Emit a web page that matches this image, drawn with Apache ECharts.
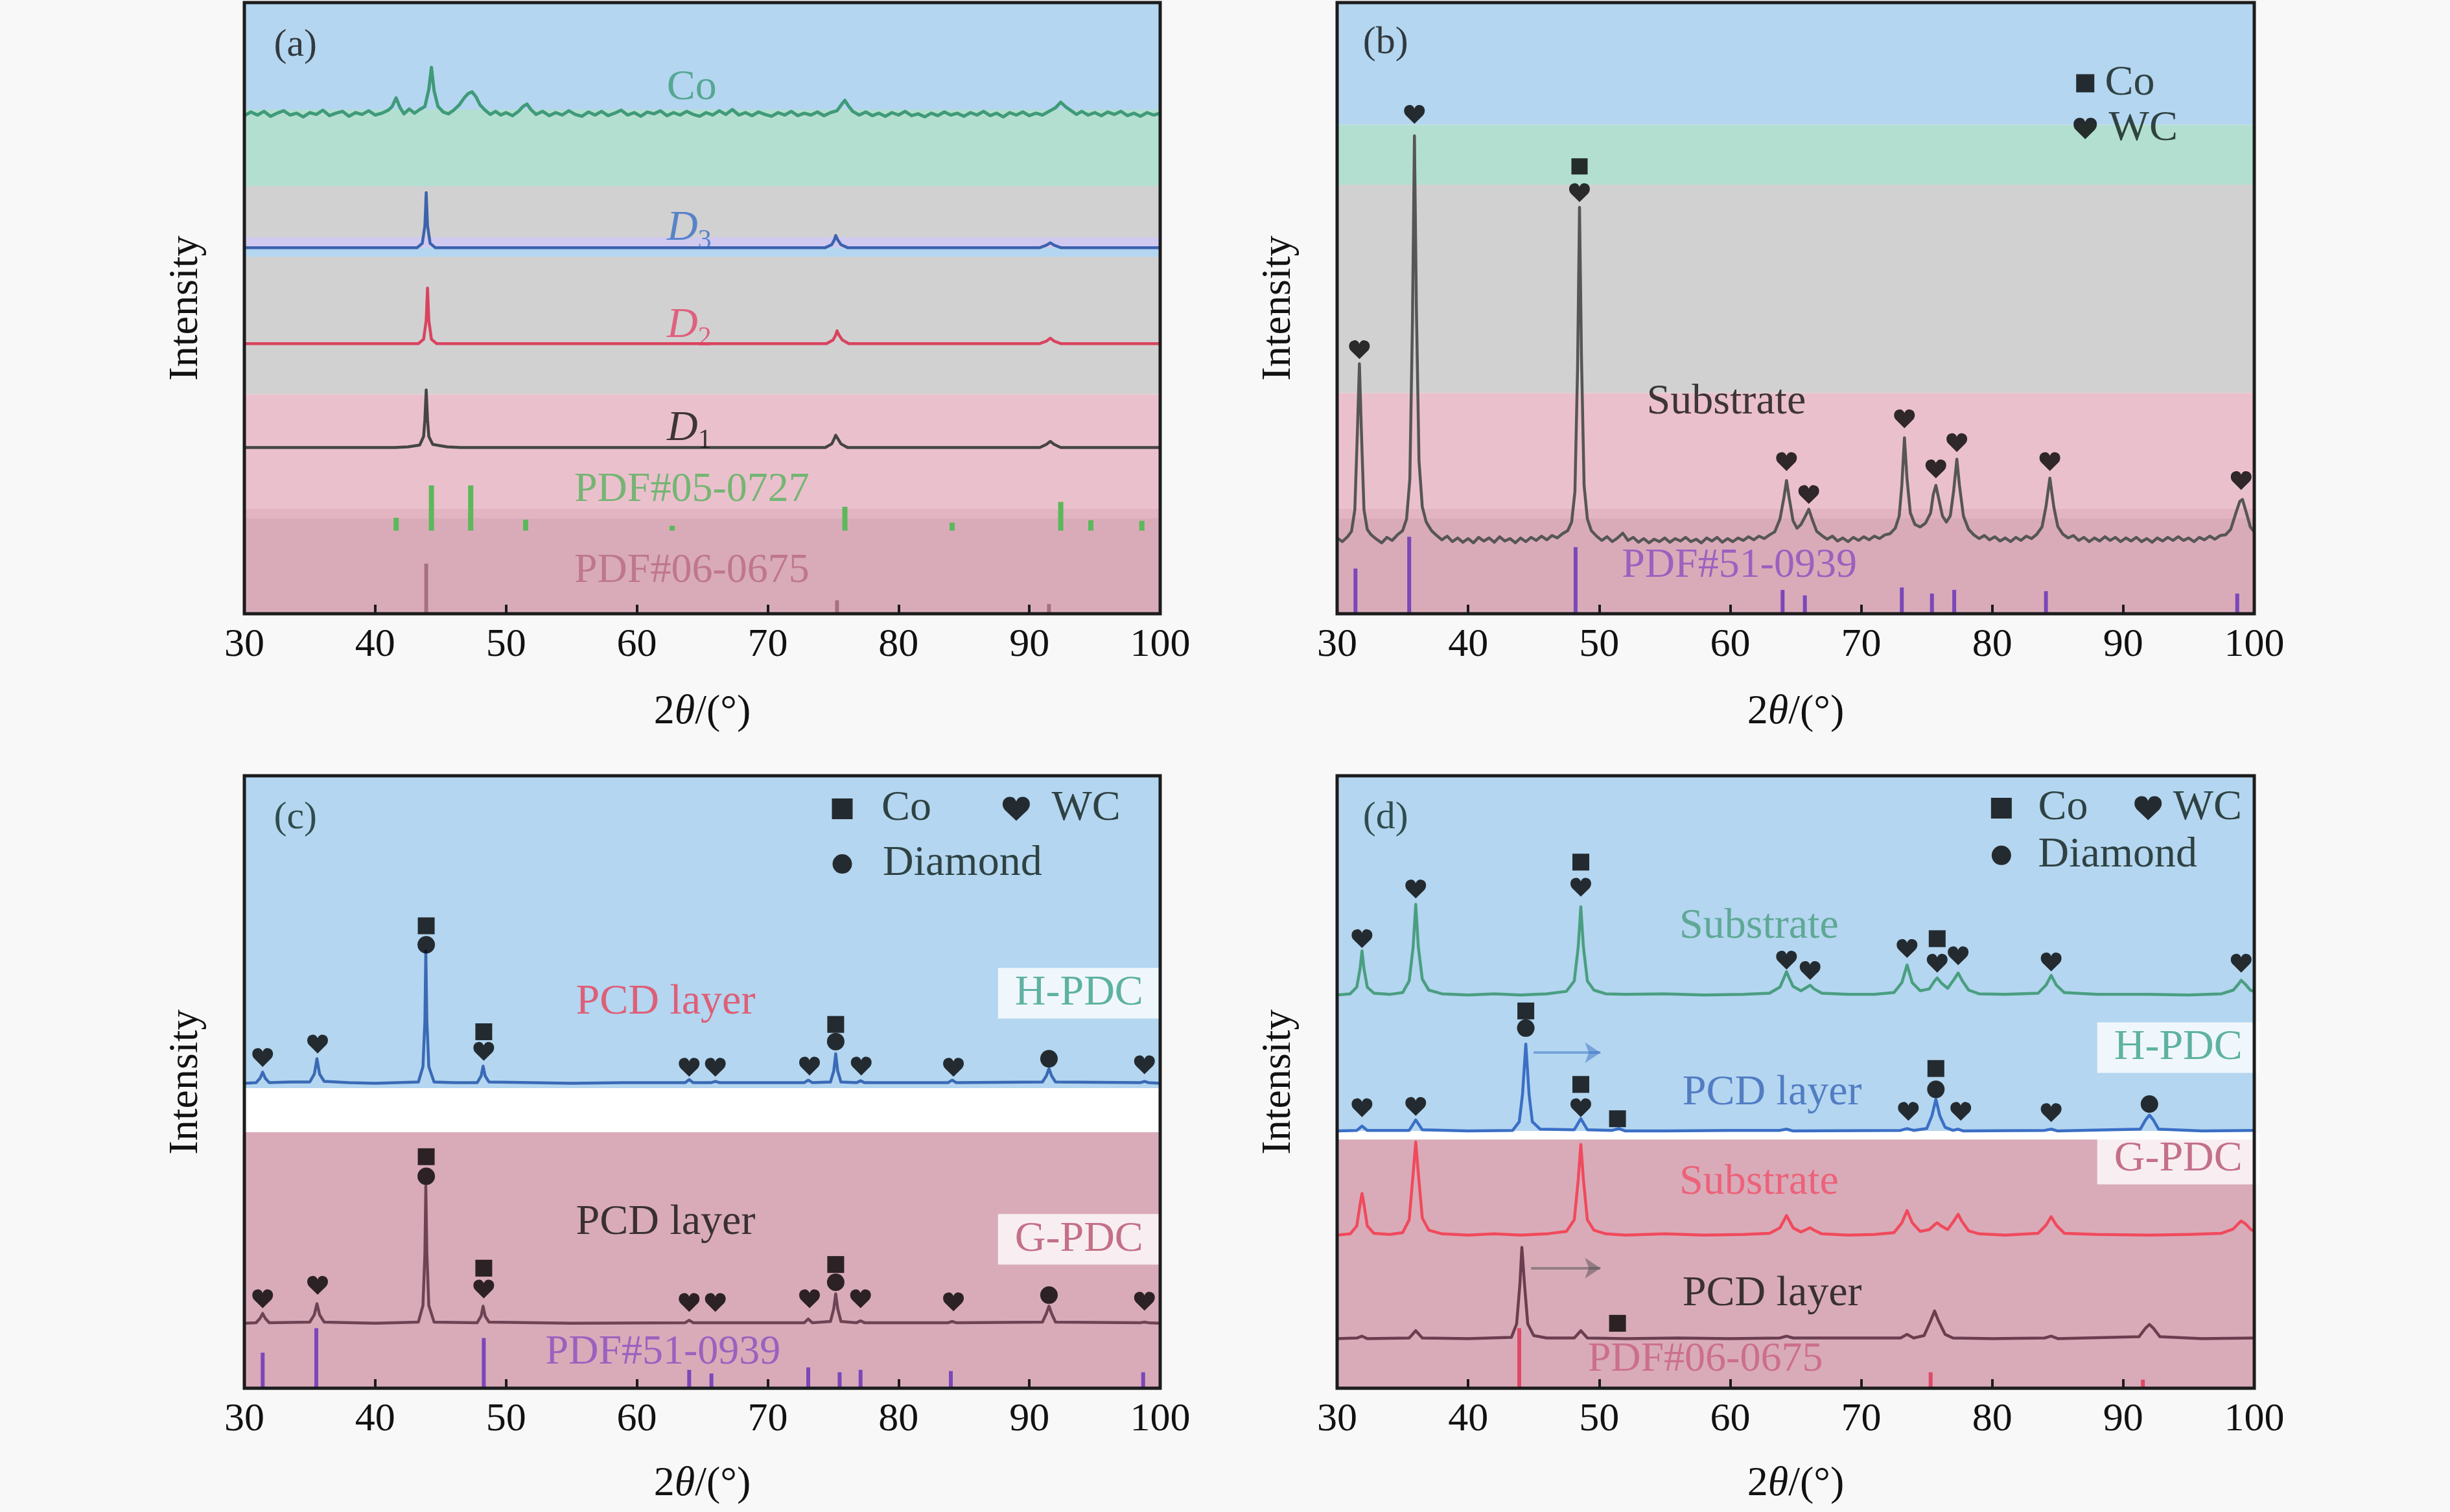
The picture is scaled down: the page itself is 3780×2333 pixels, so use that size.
<!DOCTYPE html>
<html><head><meta charset="utf-8">
<script src="https://cdn.jsdelivr.net/npm/echarts@6/dist/echarts.min.js"></script>
<style>html,body{margin:0;padding:0;background:#f8f8f8}#c{width:3780px;height:2333px}</style>
</head><body><div id="c"></div>
<script>
// ---------------- DATA (2θ in degrees, intensity in arbitrary offset units) ----------------
// Panel (a)
const coA = [[30,81.5],[30.5,82.1],[31,81.6],[31.5,82.2],[32,81.4],[32.5,81.9],[33,82.3],[33.5,81.6],[34,81.9],[34.5,81.3],[35,82.0],[35.5,81.7],[36,82.4],[36.5,81.5],[37,81.9],[37.5,82.2],[38,81.4],[38.5,82.0],[39,81.7],[39.5,82.3],[40,81.6],[40.5,81.9],[41,82.4],[41.3,83.0],[41.6,84.4],[41.9,82.8],[42.2,81.8],[42.6,82.6],[43,81.9],[43.4,82.5],[43.8,83.0],[44.1,85.8],[44.3,89.4],[44.5,85.6],[44.8,83.0],[45.2,82.1],[45.6,81.8],[46,82.4],[46.4,83.2],[46.8,84.4],[47.1,85.1],[47.4,85.4],[47.7,84.6],[48.0,83.3],[48.4,82.4],[48.8,81.7],[49.2,82.2],[49.6,81.6],[50,82.0],[50.5,81.5],[51,82.3],[51.3,83.0],[51.6,83.4],[51.9,82.5],[52.3,81.7],[52.8,82.2],[53.3,81.5],[53.8,82.0],[54.3,81.6],[54.8,82.3],[55.3,81.7],[55.8,81.4],[56.3,82.1],[56.8,81.6],[57.3,82.2],[57.8,81.5],[58.3,81.9],[58.8,82.4],[59.3,81.6],[59.8,82.0],[60.3,81.4],[60.8,82.1],[61.3,81.8],[61.8,82.3],[62.3,81.5],[62.8,82.0],[63.3,81.6],[63.8,82.2],[64.3,81.7],[64.8,81.4],[65.3,82.0],[65.8,81.6],[66.3,82.3],[66.8,81.7],[67.3,82.5],[67.8,81.6],[68.3,82.0],[68.8,81.5],[69.3,82.1],[69.8,81.7],[70.3,81.4],[70.8,82.0],[71.3,81.6],[71.8,82.2],[72.3,81.5],[72.8,81.9],[73.3,81.6],[73.8,82.1],[74.3,81.5],[74.8,82.0],[75.3,82.3],[75.6,83.2],[75.9,84.0],[76.2,83.0],[76.5,82.2],[77,81.6],[77.5,82.1],[78,81.5],[78.5,81.9],[79,81.4],[79.5,82.0],[80,81.6],[80.5,82.2],[81,81.5],[81.5,81.8],[82,81.3],[82.5,81.9],[83,81.5],[83.5,82.1],[84,81.6],[84.5,81.9],[85,81.4],[85.5,82.0],[86,81.6],[86.5,82.2],[87,81.5],[87.5,81.9],[88,81.3],[88.5,82.0],[89,81.6],[89.5,82.1],[90,81.5],[90.5,81.9],[91,81.6],[91.5,82.2],[92.0,82.8],[92.4,83.7],[92.8,82.9],[93.2,82.3],[93.6,81.7],[94,82.2],[94.5,81.6],[95,82.0],[95.5,81.5],[96,82.1],[96.5,81.7],[97,82.2],[97.5,81.5],[98,81.9],[98.5,81.4],[99,82.0],[99.5,81.6],[100,81.9]];
const d3A = [[30,59.9],[43.2,59.9],[43.6,60.6],[43.8,63.5],[43.9,68.9],[44.0,63.5],[44.2,60.6],[44.6,59.9],[74.4,59.9],[74.9,60.4],[75.1,61.2],[75.2,61.9],[75.35,61.2],[75.6,60.4],[76.1,59.9],[90.8,59.9],[91.3,60.3],[91.6,60.7],[91.9,60.3],[92.4,59.9],[100,59.9]];
const d2A = [[30,44.2],[43.3,44.2],[43.7,44.9],[43.9,48.0],[44.0,53.3],[44.1,48.0],[44.3,44.9],[44.7,44.2],[74.5,44.2],[75.0,44.8],[75.2,45.6],[75.3,46.3],[75.45,45.6],[75.7,44.8],[76.2,44.2],[90.8,44.2],[91.3,44.6],[91.6,45.1],[91.9,44.6],[92.4,44.2],[100,44.2]];
const d1A = [[30,27.2],[41.5,27.2],[42.5,27.3],[43.4,27.6],[43.7,29.0],[43.8,31.8],[43.9,36.6],[44.0,31.8],[44.1,29.0],[44.4,27.7],[45.5,27.3],[46.5,27.2],[74.4,27.2],[74.9,27.8],[75.1,28.7],[75.2,29.2],[75.35,28.7],[75.6,27.8],[76.1,27.2],[90.8,27.2],[91.3,27.7],[91.6,28.2],[91.9,27.7],[92.4,27.2],[100,27.2]];
const pdfCoA = [[41.6,15.7],[44.3,21.0],[47.3,21.0],[51.5,15.4],[62.7,14.4],[75.9,17.5],[84.1,14.9],[92.4,18.3],[94.7,15.3],[98.6,15.2]];
const pdfDiaA = [[43.9,8.2],[75.3,2.2],[91.5,1.6]];

// Panel (b)
const subB = [[30,12.4],[30.4,11.8],[30.8,12.6],[31.1,13.5],[31.35,17],[31.55,30],[31.7,40.9],[31.85,30],[32.05,17],[32.3,13.8],[32.6,12.9],[33,12.2],[33.4,11.6],[33.8,12.5],[34.2,12.0],[34.6,12.9],[35.0,13.6],[35.3,15.5],[35.55,22],[35.75,48],[35.9,78.2],[36.05,50],[36.25,25],[36.5,17.5],[36.8,15],[37.2,13.6],[37.6,12.8],[38,12.1],[38.4,12.7],[38.8,11.8],[39.2,12.4],[39.6,11.7],[40,12.3],[40.4,11.6],[40.8,12.5],[41.2,11.9],[41.6,12.4],[42,11.7],[42.4,12.6],[42.8,11.9],[43.2,12.3],[43.6,11.6],[44,12.4],[44.4,11.8],[44.8,12.5],[45.2,12.0],[45.6,12.7],[46,12.1],[46.4,12.8],[46.8,12.4],[47.2,13.1],[47.6,13.6],[47.9,15.0],[48.15,20],[48.35,40],[48.5,66.5],[48.65,42],[48.85,21],[49.1,15.5],[49.4,13.6],[49.8,12.7],[50.2,12.0],[50.6,12.6],[51,11.8],[51.4,12.4],[51.8,13.2],[52.2,12.0],[52.6,12.5],[53,11.7],[53.4,12.3],[53.8,11.6],[54.2,12.2],[54.6,11.8],[55,12.4],[55.4,11.7],[55.8,12.3],[56.2,11.9],[56.6,12.5],[57,11.8],[57.4,12.2],[57.8,11.6],[58.2,12.4],[58.6,11.9],[59,12.5],[59.4,11.7],[59.8,12.3],[60.2,11.8],[60.6,12.4],[61,12.0],[61.4,12.6],[61.8,12.1],[62.2,12.7],[62.6,12.3],[63,12.9],[63.4,13.4],[63.8,15.5],[64.1,19],[64.3,21.8],[64.5,19],[64.8,15.2],[65.1,14.0],[65.4,14.6],[65.7,15.8],[66.0,17.1],[66.3,15.2],[66.6,13.5],[67,12.8],[67.4,12.2],[67.8,12.7],[68.2,11.9],[68.6,12.4],[69,11.8],[69.4,12.5],[69.8,12.0],[70.2,12.6],[70.6,12.1],[71,12.7],[71.4,12.3],[71.8,12.9],[72.2,13.1],[72.6,14.0],[72.9,16.0],[73.1,21],[73.3,28.8],[73.5,22],[73.75,16.5],[74.1,14.6],[74.5,14.2],[74.9,14.8],[75.3,16.5],[75.5,19.5],[75.7,21.0],[75.9,19.0],[76.2,16.0],[76.5,15.0],[76.8,16.0],[77.05,20],[77.3,25.3],[77.5,21],[77.8,16],[78.2,13.8],[78.6,12.9],[79,12.3],[79.4,12.8],[79.8,12.1],[80.2,12.6],[80.6,11.9],[81,12.4],[81.4,11.8],[81.8,12.5],[82.2,12.0],[82.6,12.7],[83,12.3],[83.4,13.0],[83.8,14.2],[84.1,17.5],[84.4,22.2],[84.7,17.5],[85.0,14.3],[85.4,13.0],[85.8,12.4],[86.2,12.8],[86.6,12.0],[87,12.5],[87.4,11.8],[87.8,12.4],[88.2,11.9],[88.6,12.6],[89,12.0],[89.4,12.5],[89.8,11.8],[90.2,12.4],[90.6,11.9],[91,12.5],[91.4,11.8],[91.8,12.3],[92.2,11.7],[92.6,12.4],[93,11.9],[93.4,12.5],[93.8,12.0],[94.2,12.6],[94.6,12.0],[95,12.4],[95.4,11.8],[95.8,12.5],[96.2,12.1],[96.6,12.7],[97,12.2],[97.4,12.8],[97.8,12.9],[98.2,13.8],[98.6,16.5],[98.9,18.4],[99.1,18.7],[99.4,16.5],[99.7,14.2],[100,13.4]];
const pdfWcB = [[31.4,7.4],[35.5,12.6],[48.2,10.9],[64.0,3.9],[65.7,3.0],[73.1,4.3],[75.4,3.3],[77.1,3.9],[84.1,3.7],[98.7,3.3]];
const wcMarksB = [[31.7,43.2],[35.9,81.7],[48.5,68.9],[64.3,24.9],[66.0,19.5],[73.3,31.9],[75.7,23.7],[77.3,28.0],[84.4,24.9],[99.0,21.8]];
const coMarksB = [[48.5,73.2]];

// Panel (c)
const hC = [[30,49.8],[30.9,49.9],[31.2,50.6],[31.4,51.6],[31.6,50.6],[31.9,49.9],[33.5,50.0],[35.0,50.0],[35.35,51.3],[35.55,53.8],[35.75,51.3],[36.1,50.1],[38,49.9],[40,49.8],[43.3,50.0],[43.65,52.5],[43.8,60],[43.87,71.4],[43.95,60],[44.1,52.5],[44.5,50.0],[46,49.9],[47.8,49.9],[48.1,51.0],[48.25,52.6],[48.4,51.0],[48.7,50.0],[52,49.9],[55,49.8],[59,49.9],[63.7,49.9],[64.0,50.4],[64.3,49.9],[65.7,49.9],[66.0,50.1],[66.3,49.9],[72.8,49.9],[73.1,50.3],[73.4,49.9],[74.8,50.0],[75.05,51.8],[75.2,54.6],[75.35,51.8],[75.6,50.0],[76.8,49.9],[77.1,50.2],[77.4,49.9],[83.8,49.9],[84.1,50.3],[84.4,49.9],[91.0,50.0],[91.3,51.0],[91.5,52.2],[91.7,51.0],[92.0,50.0],[98.5,49.9],[98.8,50.1],[99.1,49.9],[100,49.8]];
const gC = [[30,10.6],[30.9,10.7],[31.2,11.4],[31.4,12.2],[31.6,11.4],[31.9,10.7],[35.0,10.8],[35.35,12.0],[35.55,13.8],[35.75,12.0],[36.1,10.8],[40,10.6],[43.3,10.8],[43.65,13.5],[43.8,22],[43.87,33.0],[43.95,22],[44.1,13.5],[44.5,10.8],[47.8,10.7],[48.1,11.8],[48.25,13.4],[48.4,11.8],[48.7,10.8],[55,10.6],[63.7,10.7],[64.0,11.1],[64.3,10.7],[72.8,10.7],[73.1,11.3],[73.4,10.7],[74.8,10.9],[75.05,13.0],[75.2,15.4],[75.35,13.0],[75.6,10.9],[76.8,10.7],[77.1,11.0],[77.4,10.7],[83.8,10.7],[84.1,10.9],[84.4,10.7],[91.0,10.8],[91.3,12.2],[91.5,13.4],[91.7,12.2],[92.0,10.8],[98.5,10.7],[98.8,10.8],[99.1,10.7],[100,10.6]];
const pdfWcC = [[31.4,5.8],[35.5,9.8],[48.3,8.2],[64.0,3.0],[65.7,2.4],[73.1,3.4],[75.5,2.6],[77.1,3.0],[84.0,2.8],[98.7,2.6]];
const wcMarksC = [[31.4,54.0],[35.6,56.2],[48.3,55.0],[64.0,52.4],[66.0,52.4],[73.2,52.6],[77.15,52.6],[84.2,52.4],[98.8,52.8],[31.4,14.6],[35.6,16.8],[48.3,16.2],[64.0,14.0],[66.0,14.0],[73.2,14.6],[77.1,14.6],[84.2,14.1],[98.8,14.2]];
const diaMarksC = [[43.9,72.4],[75.2,56.6],[91.5,53.8],[43.9,34.6],[75.2,17.3],[91.5,15.2]];
const coMarksC = [[43.9,75.5],[48.3,58.2],[75.2,59.4],[43.9,37.8],[48.3,19.6],[75.2,20.2]];

// Panel (d)
const subHD = [[30,64.2],[31.0,64.4],[31.5,65.5],[31.75,68.5],[31.9,71.4],[32.05,68.5],[32.3,65.5],[32.8,64.5],[34,64.3],[35.0,64.6],[35.5,66.5],[35.8,72],[36.0,79.0],[36.2,72],[36.5,66.8],[37,65.0],[38,64.4],[40,64.2],[42,64.4],[44,64.2],[46,64.4],[47.5,64.8],[48.1,66.5],[48.4,72],[48.6,78.6],[48.8,72],[49.1,66.5],[49.6,65.0],[50.5,64.4],[52,64.3],[55,64.4],[58,64.2],[61,64.3],[63.0,64.5],[63.8,65.5],[64.1,67],[64.3,68.0],[64.5,67],[64.8,65.6],[65.4,64.9],[65.8,65.4],[66.1,65.8],[66.4,65.2],[67,64.5],[69,64.3],[71,64.3],[72.5,64.6],[73.1,66.2],[73.5,69.1],[73.9,66.2],[74.5,64.9],[75.2,65.2],[75.6,66.5],[75.8,67.0],[76.1,66.2],[76.6,65.3],[77.1,66.8],[77.4,67.8],[77.7,66.6],[78.2,65.0],[79,64.4],[81,64.3],[83.5,64.5],[84.1,65.8],[84.5,67.4],[84.9,65.8],[85.5,64.6],[88,64.3],[92,64.3],[95,64.2],[97.5,64.4],[98.4,65.0],[98.8,66.0],[99.0,66.6],[99.3,66.0],[99.7,65.0],[100,64.8]];
const pcdHD = [[30,42.0],[31.5,42.1],[31.9,42.8],[32.3,42.1],[35.5,42.1],[36.0,43.8],[36.5,42.2],[40,42.0],[43.4,42.1],[43.9,43.5],[44.15,48],[44.4,56.2],[44.65,48],[44.9,43.5],[45.5,42.3],[48.1,42.2],[48.6,44.0],[49.1,42.2],[51.0,42.1],[51.5,42.4],[52.0,42.0],[55,42.0],[60,42.1],[63.8,42.1],[64.3,42.3],[64.8,42.0],[73.0,42.1],[73.5,42.4],[74,42.1],[75.0,42.4],[75.4,44.5],[75.7,47.2],[76.0,44.5],[76.4,42.6],[77.0,42.1],[77.4,42.3],[77.8,42.0],[84.0,42.1],[84.5,42.3],[85.0,42.0],[91.3,42.3],[91.7,43.8],[92.0,44.6],[92.3,43.8],[92.7,42.3],[96,42.0],[100,42.1]];
const subGD = [[30,25.0],[31.0,25.2],[31.5,26.5],[31.75,30],[31.9,31.8],[32.05,30],[32.3,26.5],[32.8,25.3],[34,25.1],[35.0,25.4],[35.5,27.5],[35.8,35],[36.0,40.2],[36.2,35],[36.5,27.8],[37,25.8],[38,25.2],[40,25.0],[42,25.2],[44,25.0],[46,25.2],[47.5,25.6],[48.1,27.5],[48.4,34],[48.6,39.8],[48.8,34],[49.1,27.5],[49.6,25.8],[50.5,25.2],[52,25.0],[55,25.2],[58,25.0],[61,25.1],[63.0,25.3],[63.8,26.2],[64.1,27.4],[64.3,28.2],[64.5,27.4],[64.8,26.2],[65.4,25.5],[65.8,25.9],[66.1,26.2],[66.4,25.8],[67,25.2],[69,25.0],[71,25.1],[72.5,25.4],[73.1,27.0],[73.5,29.0],[73.9,27.0],[74.5,25.6],[75.2,25.9],[75.6,26.7],[75.8,27.0],[76.1,26.5],[76.6,25.9],[77.1,27.4],[77.4,28.4],[77.7,27.2],[78.2,25.7],[79,25.2],[81,25.0],[83.5,25.3],[84.1,26.6],[84.5,28.0],[84.9,26.6],[85.5,25.3],[88,25.1],[92,25.0],[95,25.1],[97.5,25.3],[98.4,26.0],[98.8,26.9],[99.0,27.3],[99.3,26.9],[99.7,26.0],[100,25.6]];
const pcdGD = [[30,8.1],[31.5,8.2],[31.9,8.5],[32.3,8.1],[35.5,8.2],[36.0,9.4],[36.5,8.2],[40,8.1],[43.3,8.3],[43.7,10.5],[43.95,17],[44.1,23.0],[44.3,17],[44.55,10.5],[45.0,8.6],[46,8.2],[48.1,8.2],[48.6,9.4],[49.1,8.2],[52,8.1],[56,8.2],[60,8.1],[63.8,8.2],[64.3,8.5],[64.8,8.2],[73.0,8.2],[73.5,8.8],[74,8.2],[74.8,8.6],[75.3,11.0],[75.6,12.6],[75.9,11.0],[76.4,8.8],[77.0,8.2],[80,8.1],[84.0,8.2],[84.5,8.5],[85.0,8.1],[91.2,8.4],[91.7,9.8],[92.0,10.4],[92.3,9.8],[92.8,8.4],[96,8.1],[100,8.2]];
const pdfDiaD = [[43.9,9.8],[75.3,2.6],[91.5,1.4]];
const wcMarksD = [[31.9,73.4],[36.0,81.5],[48.6,81.8],[64.3,69.9],[66.1,68.2],[73.5,71.8],[75.8,69.4],[77.4,70.6],[84.5,69.6],[99.0,69.4],[31.9,45.8],[36.0,46.0],[48.6,45.8],[73.6,45.2],[77.6,45.2],[84.5,45.0]];
const coMarksD = [[48.6,85.9],[75.8,73.4],[44.4,61.6],[48.6,49.6],[51.4,44.0],[75.7,52.2],[51.4,10.6]];
const diaMarksD = [[44.4,58.8],[75.7,48.8],[92.0,46.4]];
const arrowsD = [[[45.0,54.8],[50.1,54.8]],[[44.8,19.6],[50.1,19.6]]];

// Axis ticks
const xMin = 30, xMax = 100, xStep = 10;

// ---------------- LAYOUT / STYLE ----------------
const FONT = '"Liberation Serif","Times New Roman",serif';
const grids = [
  {left:377, top:4, width:1413, height:943},
  {left:2063, top:4, width:1415, height:943},
  {left:377, top:1197, width:1413, height:945},
  {left:2063, top:1197, width:1415, height:945}
];
const bands = [
  [[82.5,100,'#b4d6f0'],[70,82.5,'#b3dfd1'],[35.9,70,'#d1d1d1'],[59.9,61.6,'#d0caf0'],[58.4,59.9,'#b4d6f0'],[17.2,35.9,'#ebc0cd'],[15.6,17.2,'#e3b4c2'],[0,15.6,'#d9abb9']],
  [[80,100,'#b4d6f0'],[70.2,80,'#b3dfd1'],[36.1,70.2,'#d1d1d1'],[17.2,36.1,'#ebc0cd'],[15.6,17.2,'#e3b4c2'],[0,15.6,'#d9abb9']],
  [[49.0,100,'#b4d6f0'],[41.8,49.0,'#ffffff'],[0,41.8,'#d9abb9']],
  [[42.0,100,'#b4d6f0'],[40.6,42.0,'#ffffff'],[0,40.6,'#d9abb9']]
];
const HEART = 'path://M50 96 L14 57 C0 41 4 10 28 8 C40 7 47 15 50 25 C53 15 60 7 72 8 C96 10 100 41 86 57 Z';
const DARK = '#0e1d18';

// annotations: [x, y, text, color, align, fontSize]
const annot = [
  [
    [33.9,93.0,'(a)','#111','center',60],
    [64.2,86.0,'Co','#3f9b7c','center',66],
    [64.0,63.0,'{i|D}{s|3}','#3a6fc4','center',66],
    [64.0,47.1,'{i|D}{s|2}','#e2456a','center',66],
    [64.0,30.3,'{i|D}{s|1}','#111','center',66],
    [64.2,20.2,'PDF#05-0727','#56b25c','center',64],
    [64.2,7.0,'PDF#06-0675','#b86a82','center',64]
  ],
  [
    [33.7,93.4,'(b)','#111','center',60],
    [59.7,34.6,'Substrate','#111','center',66],
    [60.7,7.8,'PDF#51-0939','#8a4fc0','center',64],
    [88.6,86.8,'Co',DARK,'left',66],
    [88.9,79.4,'WC',DARK,'left',66]
  ],
  [
    [33.9,93.1,'(c)','#0e2a24','center',60],
    [78.7,94.6,'Co',DARK,'left',66],
    [91.7,94.6,'WC',DARK,'left',66],
    [78.8,85.6,'Diamond',DARK,'left',66],
    [62.2,63.0,'PCD layer','#e8415a','center',66],
    [62.2,27.0,'PCD layer','#111','center',66],
    [62.0,5.8,'PDF#51-0939','#8a4fc0','center',64]
  ],
  [
    [33.7,93.1,'(d)','#0e2a24','center',60],
    [83.5,94.7,'Co',DARK,'left',66],
    [93.8,94.7,'WC',DARK,'left',66],
    [83.5,87.0,'Diamond',DARK,'left',66],
    [62.2,75.4,'Substrate','#4a9c7f','center',66],
    [63.2,48.2,'PCD layer','#3a66b8','center',66],
    [62.2,33.6,'Substrate','#f0506a','center',66],
    [63.2,15.4,'PCD layer','#111','center',66],
    [58.1,4.6,'PDF#06-0675','#c86080','center',64]
  ]
];
// boxed labels: [grid, x, y, text, color]
const boxed = [
  [2,93.8,64.5,'H-PDC','#3aa08a'],
  [2,93.8,24.3,'G-PDC','#b5506e'],
  [3,94.2,55.6,'H-PDC','#3aa08a'],
  [3,94.2,37.4,'G-PDC','#b5506e']
];

// ---------------- BUILD ----------------
const series = [];
function bandSeries(g, list) {
  return {type:'custom', xAxisIndex:g, yAxisIndex:g, z:1, silent:true, clip:true, animation:false,
    data: list.map(b => [xMin, b[0], b[1]]),
    renderItem: (p, api) => {
      const tl = api.coord([xMin, api.value(2)]);
      const br = api.coord([xMax, api.value(1)]);
      return {type:'rect', shape:{x:tl[0], y:tl[1], width:br[0]-tl[0], height:br[1]-tl[1]}, style:{fill:list[p.dataIndex][2]}};
    }};
}
function curve(g, data, color, w) {
  return {type:'line', xAxisIndex:g, yAxisIndex:g, data, symbol:'none', showSymbol:false, silent:true, animation:false,
    lineStyle:{color, width:w||4.5, join:'round'}, z:4};
}
function sticks(g, data, base, color, w) {
  return {type:'custom', xAxisIndex:g, yAxisIndex:g, z:3, silent:true, clip:true, animation:false,
    data: data.map(d => [d[0], d[1], base]),
    renderItem: (p, api) => {
      const t = api.coord([api.value(0), api.value(1)]);
      const b = api.coord([api.value(0), api.value(2)]);
      return {type:'rect', shape:{x:t[0]-w/2, y:t[1], width:w, height:b[1]-t[1]}, style:{fill:color}};
    }};
}
function marks(g, data, symbol, size) {
  return {type:'scatter', xAxisIndex:g, yAxisIndex:g, data, symbol, symbolSize:size, silent:true, animation:false,
    itemStyle:{color:'#000'}, z:6};
}
function texts(g, list) {
  return {type:'scatter', xAxisIndex:g, yAxisIndex:g, symbolSize:1, silent:true, animation:false, z:7,
    itemStyle:{color:'rgba(0,0,0,0)'},
    data: list.map(a => ({value:[a[0],a[1]], label:{show:true, position:'inside', formatter:a[2], color:a[3], align:a[4], verticalAlign:'middle', fontSize:a[5], fontFamily:FONT,
      rich:{i:{fontStyle:'italic', fontSize:a[5], fontFamily:FONT, color:a[3], lineHeight:80}, s:{fontSize:42, fontFamily:FONT, color:a[3], lineHeight:34, verticalAlign:'bottom'}}}}))};
}

bands.forEach((b, g) => series.push(bandSeries(g, b)));

// (a)
series.push(sticks(0, pdfCoA, 13.6, '#5cb85a', 8));
series.push(sticks(0, pdfDiaA, 0, '#a8707f', 6));
series.push(curve(0, coA, '#3f9a78', 5));
series.push(curve(0, d3A, '#3d62ad', 4.5));
series.push(curve(0, d2A, '#d9435f', 4.5));
series.push(curve(0, d1A, '#454545', 4.5));
series.push(texts(0, annot[0]));
// (b)
series.push(sticks(1, pdfWcB, 0, '#7a48b8', 6));
series.push(curve(1, subB, '#565656', 4.5));
series.push(marks(1, wcMarksB, HEART, [32,29]));
series.push(marks(1, coMarksB, 'rect', 25));
series.push(marks(1, [[87.1,86.8]], 'rect', 28));
series.push(marks(1, [[87.1,79.4]], HEART, [36,33]));
series.push(texts(1, annot[1]));
// (c)
series.push(sticks(2, pdfWcC, 0, '#7a48b8', 6));
series.push(curve(2, hC, '#3a6ab5', 4.5));
series.push(curve(2, gC, '#6e4454', 4.5));
series.push(marks(2, wcMarksC, HEART, [32,29]));
series.push(marks(2, diaMarksC, 'circle', 27));
series.push(marks(2, coMarksC, 'rect', 26));
series.push(marks(2, [[75.7,94.6]], 'rect', 32));
series.push(marks(2, [[75.7,85.6]], 'circle', 30));
series.push(marks(2, [[89.0,94.6]], HEART, [42,37]));
series.push(texts(2, annot[2]));
// (d)
series.push(sticks(3, pdfDiaD, 0, '#e04868', 6));
series.push(curve(3, subHD, '#4a9e80', 4.5));
series.push(curve(3, pcdHD, '#3a6fc6', 4.5));
series.push(curve(3, subGD, '#f04a5c', 4.5));
series.push(curve(3, pcdGD, '#6a3e4e', 4.5));
series.push(marks(3, wcMarksD, HEART, [32,29]));
series.push(marks(3, diaMarksD, 'circle', 27));
series.push(marks(3, coMarksD, 'rect', 26));
series.push(marks(3, [[80.7,94.7]], 'rect', 32));
series.push(marks(3, [[80.7,87.0]], 'circle', 30));
series.push(marks(3, [[91.9,94.7]], HEART, [42,37]));
series.push(texts(3, annot[3]));
series.push({type:'lines', coordinateSystem:'cartesian2d', xAxisIndex:3, yAxisIndex:3, silent:true, animation:false, z:6,
  symbol:['none','arrow'], symbolSize:24,
  data:[{coords:arrowsD[0], lineStyle:{color:'#3a6fc6', width:4}}, {coords:arrowsD[1], lineStyle:{color:'#505050', width:4}}]});
// boxed labels
boxed.forEach(b => series.push({type:'scatter', xAxisIndex:b[0], yAxisIndex:b[0], symbolSize:1, silent:true, animation:false, z:7,
  itemStyle:{color:'rgba(0,0,0,0)'},
  data:[{value:[b[1],b[2]], label:{show:true, position:'inside', formatter:b[3], color:b[4], fontSize:66, fontFamily:FONT,
    backgroundColor:'#ffffff', padding:[8,26,4,26]}}]}));

const xName = '2{i|θ}/(°)';
const option = {
  backgroundColor:'#f8f8f8',
  animation:false,
  grid: grids.map(g => Object.assign({show:true, z:10, backgroundColor:'transparent', borderColor:'#1c1c1c', borderWidth:5}, g)),
  xAxis: grids.map((g, i) => ({type:'value', gridIndex:i, min:xMin, max:xMax, interval:xStep, z:11,
    axisLine:{show:false}, splitLine:{show:false},
    axisTick:{show:true, inside:true, length:14, lineStyle:{color:'#1c1c1c', width:4}},
    axisLabel:{fontFamily:FONT, fontSize:62, color:'#111', margin:18},
    name:xName, nameLocation:'middle', nameGap:(i<2?120:116),
    nameTextStyle:{fontFamily:FONT, fontSize:64, color:'#111', rich:{i:{fontStyle:'italic', fontFamily:FONT, fontSize:64, color:'#111'}}}})),
  yAxis: grids.map((g, i) => ({type:'value', gridIndex:i, min:0, max:100,
    axisLine:{show:false}, axisTick:{show:false}, axisLabel:{show:false}, splitLine:{show:false},
    name:'Intensity', nameLocation:'middle', nameGap:58, nameRotate:90,
    nameTextStyle:{fontFamily:FONT, fontSize:64, color:'#111'}})),
  series
};
const chart = echarts.init(document.getElementById('c'));
chart.setOption(option);
</script></body></html>
